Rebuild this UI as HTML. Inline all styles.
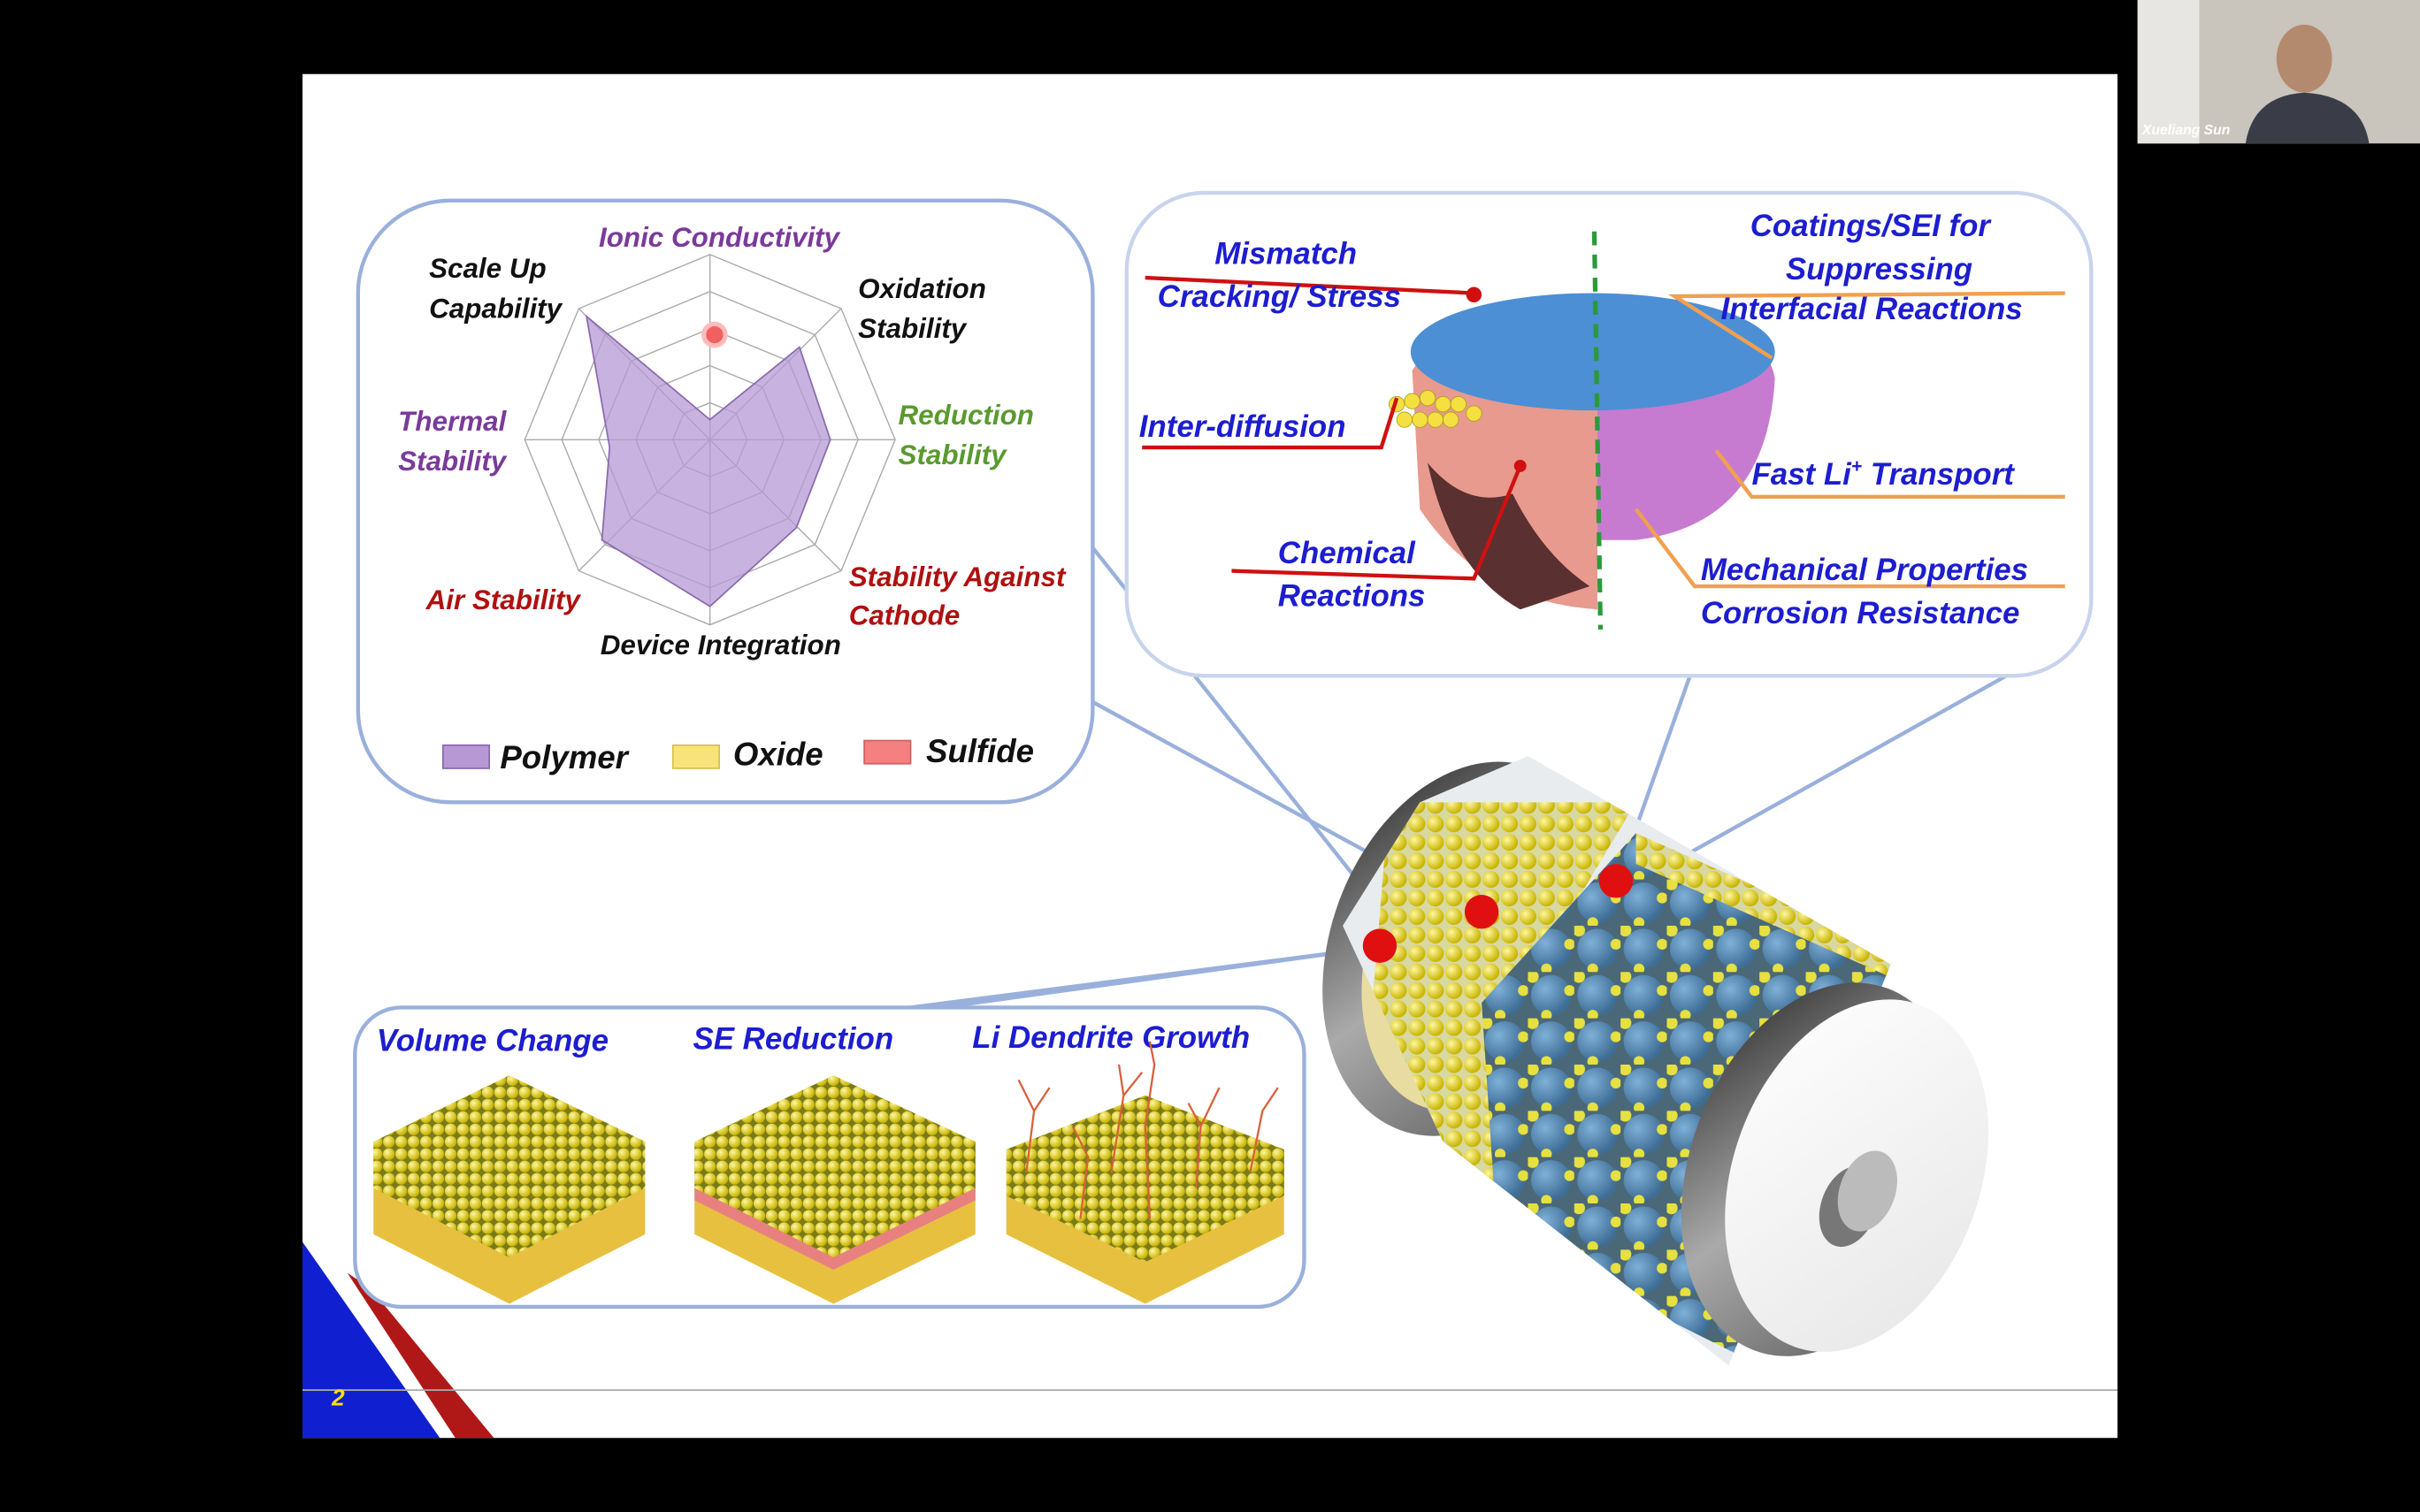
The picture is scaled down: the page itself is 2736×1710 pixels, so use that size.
<!DOCTYPE html>
<html><head><meta charset="utf-8"><style>
html,body{margin:0;padding:0;background:#000;width:2736px;height:1710px;overflow:hidden}
svg{display:block}
text{font-family:"Liberation Sans",sans-serif;font-style:italic;font-weight:bold}
</style></head><body>
<svg width="2736" height="1710" viewBox="0 0 1568 980" preserveAspectRatio="none">
<defs>
<radialGradient id="ye" cx="35%" cy="35%" r="65%"><stop offset="0" stop-color="#fff7a0"/><stop offset="1" stop-color="#c8b400"/></radialGradient>
<pattern id="balls" width="8" height="8" patternUnits="userSpaceOnUse"><rect width="8" height="8" fill="#7a7a18"/><circle cx="4" cy="4" r="3.8" fill="url(#ye)"/></pattern>
<pattern id="balls2" width="12" height="12" patternUnits="userSpaceOnUse"><rect width="12" height="12" fill="#d8d8a0"/><circle cx="6" cy="6" r="5.5" fill="url(#ye)"/></pattern>
<radialGradient id="bl" cx="35%" cy="35%" r="65%"><stop offset="0" stop-color="#7fb0d8"/><stop offset="1" stop-color="#3e6e96"/></radialGradient>
<pattern id="blueb" width="30" height="30" patternUnits="userSpaceOnUse"><rect width="30" height="30" fill="#4a6878"/><circle cx="15" cy="15" r="13" fill="url(#bl)"/><circle cx="3" cy="3" r="4" fill="#e6e040"/><circle cx="27" cy="12" r="3.5" fill="#e6e040"/><circle cx="12" cy="28" r="3.5" fill="#e6e040"/></pattern>
<linearGradient id="rim" x1="0" y1="0" x2="1" y2="1"><stop offset="0" stop-color="#222"/><stop offset="0.5" stop-color="#aaa"/><stop offset="1" stop-color="#555"/></linearGradient>
<linearGradient id="face" x1="0" y1="0" x2="1" y2="1"><stop offset="0" stop-color="#fff"/><stop offset="1" stop-color="#e6e6e6"/></linearGradient>
<clipPath id="bodyclip"><polygon points="990,490 1225,625 1120,885 935,740 870,600 920,520"/></clipPath>
</defs>
<rect width="1568" height="980" fill="#000"/>
<!-- webcam -->
<rect x="1385" y="0" width="183" height="93" fill="#c9c4bc"/>
<rect x="1385" y="0" width="40" height="93" fill="#e8e6e2"/>
<ellipse cx="1493" cy="38" rx="18" ry="22" fill="#b48a6e"/>
<path d="M1455 93 Q1460 62 1493 60 Q1530 62 1535 93Z" fill="#3a3d48"/>
<text x="1388" y="87" font-size="9" fill="#fff" font-style="normal">Xueliang Sun</text>
<!-- slide -->
<rect x="196" y="48" width="1176" height="884" fill="#fff"/>
<polygon points="196,805 196,932 285,932" fill="#1020d0"/>
<polygon points="225,825 295,932 320,932 240,835" fill="#b01818"/>
<line x1="196" y1="901" x2="1372" y2="901" stroke="#aaa" stroke-width="1"/>
<text x="215" y="911" font-size="15" fill="#ffe000">2</text>

<!-- callout lines -->
<polyline points="708,355 895,590" fill="none" stroke="#9ab0dc" stroke-width="2.5"/>
<polyline points="708,455 955,590" fill="none" stroke="#9ab0dc" stroke-width="2.5"/>
<polyline points="1095,438 1050,565" fill="none" stroke="#9ab0dc" stroke-width="2.5"/>
<polyline points="1300,438 1055,575" fill="none" stroke="#9ab0dc" stroke-width="2.5"/>
<polyline points="590,653 885,615 610,653" fill="none" stroke="#9ab0dc" stroke-width="2.5"/>

<!-- radar box -->
<rect x="232" y="130" width="476" height="390" rx="60" fill="#fff" stroke="#9ab0dc" stroke-width="2.5"/>
<g fill="none" stroke="#aaa" stroke-width="0.8">
<polygon points="460,165 545,200 580,285 545,370 460,405 375,370 340,285 375,200"/>
<polygon points="460,189 528,217 556,285 528,353 460,381 392,353 364,285 392,217"/>
<polygon points="460,213 511,234 532,285 511,336 460,357 409,336 388,285 409,234"/>
<polygon points="460,237 494,251 508,285 494,319 460,333 426,319 412,285 426,251"/>
<polygon points="460,261 477,268 484,285 477,302 460,309 443,302 436,285 443,268"/>
<line x1="460" y1="165" x2="460" y2="405"/><line x1="340" y1="285" x2="580" y2="285"/>
<line x1="375" y1="200" x2="545" y2="370"/><line x1="545" y1="200" x2="375" y2="370"/>
</g>
<polygon points="460,272 518,225 538,285 516,342 460,393 390,350 395,290 380,205" fill="#b698d4" fill-opacity="0.75" stroke="#8a6aae" stroke-width="1"/>
<circle cx="463" cy="217" r="7" fill="#f06060" stroke="#fbb" stroke-width="3"/>
<g font-size="18">
<text x="388" y="160" fill="#7a3a9a">Ionic Conductivity</text>
<text x="278" y="180" fill="#111">Scale Up</text>
<text x="278" y="206" fill="#111">Capability</text>
<text x="556" y="193" fill="#111">Oxidation</text>
<text x="556" y="219" fill="#111">Stability</text>
<text x="258" y="279" fill="#7a3a9a">Thermal</text>
<text x="258" y="305" fill="#7a3a9a">Stability</text>
<text x="582" y="275" fill="#5a9a30">Reduction</text>
<text x="582" y="301" fill="#5a9a30">Stability</text>
<text x="276" y="395" fill="#b01010">Air Stability</text>
<text x="550" y="380" fill="#b01010">Stability Against</text>
<text x="550" y="405" fill="#b01010">Cathode</text>
<text x="389" y="424" fill="#111">Device Integration</text>
</g>
<rect x="287" y="483" width="30" height="15" fill="#b698d4" stroke="#8a6aae"/>
<text x="324" y="498" font-size="21" fill="#111">Polymer</text>
<rect x="436" y="483" width="30" height="15" fill="#f8e27a" stroke="#d8c050"/>
<text x="475" y="496" font-size="21" fill="#111">Oxide</text>
<rect x="560" y="480" width="30" height="15" fill="#f48080" stroke="#d06060"/>
<text x="600" y="494" font-size="21" fill="#111">Sulfide</text>

<!-- top right box -->
<rect x="730" y="125" width="625" height="313" rx="50" fill="#fff" stroke="#c8d4ec" stroke-width="2.5"/>
<path d="M915 240 Q950 190 1035 195 L1035 395 Q960 390 920 330Z" fill="#e89a8e"/>
<path d="M1035 195 Q1140 195 1150 245 Q1145 340 1060 350 L1035 350Z" fill="#c67bd0"/>
<ellipse cx="1032" cy="228" rx="118" ry="38" fill="#4d8fd4"/>
<path d="M925 300 Q950 330 980 320 Q1000 360 1030 380 L985 395 Q940 370 925 300Z" fill="#5a3030"/>
<g fill="#f4e040" stroke="#b0a020" stroke-width="0.5"><circle cx="905" cy="262" r="5"/><circle cx="915" cy="260" r="5"/><circle cx="925" cy="258" r="5"/><circle cx="935" cy="262" r="5"/><circle cx="945" cy="262" r="5"/><circle cx="910" cy="272" r="5"/><circle cx="920" cy="272" r="5"/><circle cx="930" cy="272" r="5"/><circle cx="940" cy="272" r="5"/><circle cx="955" cy="268" r="5"/></g>
<line x1="1033" y1="150" x2="1037" y2="408" stroke="#2a9a3a" stroke-width="3" stroke-dasharray="9,6"/>
<polyline points="742,180 955,190" fill="none" stroke="#d01010" stroke-width="2.5"/>
<circle cx="955" cy="191" r="5" fill="#d01010"/>
<polyline points="740,290 895,290 905,258" fill="none" stroke="#d01010" stroke-width="2.5"/>
<polyline points="798,370 955,375 985,302" fill="none" stroke="#d01010" stroke-width="2.5"/>
<circle cx="985" cy="302" r="4" fill="#d01010"/>
<polyline points="1338,190 1085,192 1148,232" fill="none" stroke="#f0a050" stroke-width="2.5"/>
<polyline points="1338,322 1135,322 1112,292" fill="none" stroke="#f0a050" stroke-width="2.5"/>
<polyline points="1338,380 1098,380 1060,330" fill="none" stroke="#f0a050" stroke-width="2.5"/>
<g fill="#1d1dd0" font-size="20">
<text x="787" y="171">Mismatch</text>
<text x="750" y="199">Cracking/ Stress</text>
<text x="738" y="283">Inter-diffusion</text>
<text x="828" y="365">Chemical</text>
<text x="828" y="393">Reactions</text>
<text x="1134" y="153">Coatings/SEI  for</text>
<text x="1157" y="181">Suppressing</text>
<text x="1115" y="207">Interfacial Reactions</text>
<text x="1135" y="314">Fast  Li<tspan font-size="12" dy="-8">+</tspan><tspan dy="8"> Transport</tspan></text>
<text x="1102" y="376">Mechanical Properties</text>
<text x="1102" y="404">Corrosion Resistance</text>
</g>

<!-- battery -->
<ellipse cx="950" cy="615" rx="88" ry="125" transform="rotate(20 950 615)" fill="url(#rim)"/>
<ellipse cx="960" cy="612" rx="72" ry="112" transform="rotate(20 960 612)" fill="#e8dca0"/>
<g clip-path="url(#bodyclip)">
<rect x="850" y="480" width="420" height="440" fill="#e8ecef"/>
<polygon points="900,520 1060,520 1000,620 960,800 880,760" fill="url(#balls2)"/>
<polygon points="1060,540 1230,630 1170,900 970,800 960,650" fill="url(#blueb)"/>
<polygon points="1060,540 1240,620 1240,640 1060,560" fill="url(#balls2)"/>
</g>
<!-- right cap -->
<ellipse cx="1180" cy="758" rx="85" ry="125" transform="rotate(20 1180 758)" fill="url(#rim)"/>
<ellipse cx="1203" cy="762" rx="80" ry="118" transform="rotate(20 1203 762)" fill="url(#face)"/>
<ellipse cx="1198" cy="782" rx="18" ry="27" transform="rotate(20 1198 782)" fill="#777"/>
<ellipse cx="1210" cy="772" rx="18" ry="27" transform="rotate(20 1210 772)" fill="#bbb"/>
<circle cx="894" cy="613" r="11" fill="#e01010"/>
<circle cx="960" cy="591" r="11" fill="#e01010"/>
<circle cx="1047" cy="571" r="11" fill="#e01010"/>

<!-- bottom box -->
<rect x="230" y="653" width="615" height="194" rx="30" fill="#fff" stroke="#9ab0dc" stroke-width="2.5"/>
<g fill="#1d1dd0" font-size="20">
<text x="244" y="681">Volume Change</text>
<text x="449" y="680">SE Reduction</text>
<text x="630" y="679">Li Dendrite Growth</text>
</g>
<g>
<polygon points="242,740 330,697 418,740 418,800 330,845 242,800" fill="#e8c040"/>
<polygon points="242,740 330,783 418,740 418,770 330,815 242,770" fill="url(#balls)"/>
<polygon points="242,740 330,697 418,740 330,783" fill="url(#balls)"/>
<polygon points="450,740 540,697 632,740 632,800 540,845 450,800" fill="#e8c040"/>
<polygon points="450,740 540,783 632,740 632,770 540,815 450,770" fill="url(#balls)"/>
<polygon points="450,770 540,815 632,770 632,778 540,823 450,778" fill="#e88080"/>
<polygon points="450,740 540,697 632,740 540,783" fill="url(#balls)"/>
<polygon points="652,745 742,710 832,745 832,800 742,845 652,800" fill="#e8c040"/>
<polygon points="652,745 742,788 832,745 832,775 742,818 652,775" fill="url(#balls)"/>
<polygon points="652,745 742,710 832,745 742,788" fill="url(#balls)"/>
<g stroke="#d8603a" stroke-width="1.3" fill="none"><path d="M665 760 L670 720 L660 700 M670 720 L680 705"/><path d="M720 760 L728 710 L725 690 M728 710 L740 695"/><path d="M745 790 L742 730 L748 690 L745 675"/><path d="M775 770 L778 730 L790 705 M778 730 L770 715"/><path d="M810 760 L818 720 L828 705"/><path d="M700 790 L705 750 L695 730"/></g>
</g>
</svg>
</body></html>
